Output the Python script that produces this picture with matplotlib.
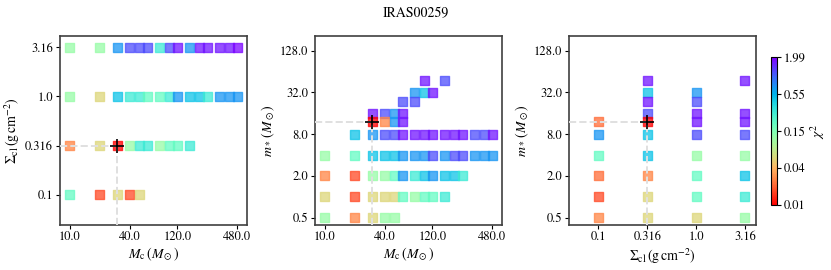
import numpy as np
import matplotlib
matplotlib.use('Agg')
import matplotlib.pyplot as plt
from matplotlib.colors import LogNorm

plt.rcParams['font.family'] = ['STIXGeneral', 'DejaVu Serif']
plt.rcParams['mathtext.fontset'] = 'stix'

# chi^2 levels
R, T, C2, O, K, G = 0.0116, 0.019, 0.024, 0.029, 0.06, 0.12
A, C, S, B, V, P = 0.2, 0.3, 0.47, 0.71, 1.2, 1.7

mc_grid = [10, 20, 30, 40, 50, 60, 80, 100, 120, 160, 200, 240, 320, 400, 480]
sigma_grid = [0.1, 0.316, 1.0, 3.16]

# Panel 1: Mc vs Sigma_cl
chi_mc_sigma = {
    3.16: [G, G, B, V, V, V, C, V, P, B, P, P, P, P, 1.9],
    1.0: [G, K, S, C, C, A, A, C, B, S, S, C, B, B, B],
    0.316: [O, K, R, G, C, C, G, A, A, C],
    0.1: [A, T, K, T, K],
}

# Panel 2: Mc vs m*
chi_mc_mstar = {
    48: {100: P, 160: V},
    32: {80: B, 100: S, 120: P},
    24: {60: V, 80: V},
    16: {30: P, 40: V, 50: B, 60: P},
    12: {30: R, 40: O, 50: B, 60: P},
    8: dict(zip(mc_grid[1:], [S, B, V, V, P, P, P, P, P, P, P, V, V, P])),
    4: dict(zip(mc_grid, [G, A, S, S, S, B, B, B, V, B, V, V, B, B, B])),
    2: dict(zip(mc_grid[:12], [O, T, G, G, A, B, C, S, B, S, S, C])),
    1: dict(zip(mc_grid[:10], [K, T, K, K, K, A, G, A, A, C])),
    0.5: dict(zip(mc_grid[:5], [G, O, K, G, G])),
}

# Panel 3: Sigma_cl vs m*
chi_sigma_mstar = {
    0.1: {12: C2, 8: B, 4: A, 2: C2, 1: T, 0.5: O},
    0.316: {48: P, 32: S, 24: P, 16: V, 12: R, 8: S, 4: S, 2: O, 1: K, 0.5: K},
    1.0: {32: B, 24: V, 16: P, 12: P, 8: V, 4: G, 2: A, 1: A, 0.5: K},
    3.16: {48: P, 16: P, 12: P, 8: V, 4: G, 2: S, 1: C, 0.5: G},
}

best_mc, best_sigma, best_mstar = 30, 0.316, 12

vmin, vmax = 0.0116, 1.99
norm = LogNorm(vmin=vmin, vmax=vmax)
cmap = plt.get_cmap('rainbow_r')

fig = plt.figure(figsize=(8.31, 2.7), dpi=100)
W, H = 831, 270
def box(l, r, t, b):
    return [l / W, 1 - b / H, (r - l) / W, (b - t) / H]

ax1 = fig.add_axes(box(60, 247, 36, 224.5))
ax2 = fig.add_axes(box(315, 502, 36, 224.5))
ax3 = fig.add_axes(box(569, 756, 36, 224.5))
cax = fig.add_axes(box(770.7, 776.7, 57.3, 205))

kw = dict(marker='s', s=42, cmap=cmap, norm=norm, alpha=0.75, zorder=2)

# panel 1
xs, ys, cs = [], [], []
for sig, vals in chi_mc_sigma.items():
    for m, c in zip(mc_grid, vals):
        xs.append(m); ys.append(sig); cs.append(c)
sc = ax1.scatter(xs, ys, c=cs, **kw)

# panel 2
xs, ys, cs = [], [], []
for ms, row in chi_mc_mstar.items():
    for m, c in row.items():
        xs.append(m); ys.append(ms); cs.append(c)
ax2.scatter(xs, ys, c=cs, **kw)

# panel 3
xs, ys, cs = [], [], []
for sig, col in chi_sigma_mstar.items():
    for ms, c in col.items():
        xs.append(sig); ys.append(ms); cs.append(c)
ax3.scatter(xs, ys, c=cs, **kw)

mc_lim = (8, 600)
sig_lim = (0.05, 4.1)
ms_lim = (0.4, 208)

def best_marker(ax, bx, by, xlim, ylim):
    ax.plot([xlim[0], bx], [by, by], ls='--', color='0.88', lw=1.4, zorder=3)
    ax.plot([bx, bx], [ylim[0], by], ls='--', color='0.88', lw=1.4, zorder=3)
    ax.plot(bx, by, marker='+', color='k', ms=10, mew=1.2, zorder=4)
    ax.set_xlim(xlim)
    ax.set_ylim(ylim)

best_marker(ax1, best_mc, best_sigma, mc_lim, sig_lim)
best_marker(ax2, best_mc, best_mstar, mc_lim, ms_lim)
best_marker(ax3, best_sigma, best_mstar, sig_lim, ms_lim)

mc_ticks = [10, 40, 120, 480]
sig_ticks = [0.1, 0.316, 1.0, 3.16]
ms_ticks = [0.5, 2.0, 8.0, 32.0, 128.0]

sig_label = r'$\Sigma_{\rm cl}\,(\rm g\,cm^{-2})$'
mc_label = r'$M_{\rm c}\,(M_\odot)$'
ms_label = r'$m_*\,(M_\odot)$'

def setup(ax, xt, yt, xl, yl):
    ax.set_xscale('log')
    ax.set_yscale('log')
    ax.minorticks_off()
    ax.set_xticks(xt)
    ax.set_xticklabels([str(float(v)) for v in xt])
    ax.set_yticks(yt)
    ax.set_yticklabels([str(float(v)) for v in yt])
    ax.set_xlabel(xl, fontsize=10, labelpad=2)
    ax.set_ylabel(yl, fontsize=10, labelpad=2)
    ax.tick_params(labelsize=9, length=3, width=0.8, pad=2)
    for sp in ax.spines.values():
        sp.set_color('0.25')
        sp.set_linewidth(1.2)

setup(ax1, mc_ticks, sig_ticks, mc_label, sig_label)
setup(ax2, mc_ticks, ms_ticks, mc_label, ms_label)
setup(ax3, sig_ticks, ms_ticks, sig_label, ms_label)

cb = fig.colorbar(sc, cax=cax)
cb.solids.set_alpha(1)
cticks = np.geomspace(vmin, vmax, 5)
cb.set_ticks(cticks)
cb.set_ticklabels(['%.2f' % v for v in cticks])
cb.minorticks_off()
cb.ax.tick_params(labelsize=9, length=3, pad=2)
cb.set_label(r'$\chi^2$', fontsize=10, labelpad=2)
cb.outline.set_linewidth(0.8)

fig.suptitle('IRAS00259', fontsize=10, y=0.975)

fig.savefig('out.png', dpi=100)
